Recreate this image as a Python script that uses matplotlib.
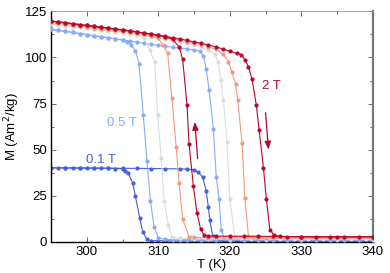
import matplotlib
matplotlib.use("Agg")
import matplotlib.pyplot as plt
from matplotlib.ticker import MultipleLocator

plt.rcParams['font.family'] = ['Liberation Sans', 'DejaVu Sans']
plt.rcParams['font.size'] = 9.5

# field labels and colours (coolwarm-like)
fields = ["0.1 T", "0.5 T", "1 T", "1.5 T", "2 T"]
colors = ["#4361d3", "#86aafc", "#dcdcdc", "#f4997c", "#b7072b"]

# ---- 0.1 T ----
t_heat_01 = [295, 297, 299, 301, 303, 305, 307, 309, 311, 313, 314, 315, 315.6, 316.2, 316.7,
             317.0, 317.2, 317.6, 318.2, 319, 321, 323, 325, 327, 329, 331, 333, 335, 337, 339, 340]
m_heat_01 = [40.1, 40.0, 40.0, 39.9, 39.9, 39.8, 39.8, 39.7, 39.6, 39.5, 39.4, 39.0, 37.8, 35.0, 27.4,
             18.6, 11.7, 3.1, 0.8, 0.4, 0.3, 0.3, 0.3, 0.3, 0.3, 0.3, 0.3, 0.3, 0.3, 0.3, 0.3]
t_cool_01 = [295, 296, 297, 298, 299, 300, 301, 302, 303, 304, 305, 305.3, 305.8, 306.4, 306.8,
             307.4, 307.8, 308.4, 309, 310, 311, 312, 313, 314, 315, 316, 318, 320, 325, 330, 335, 340]
m_cool_01 = [40.1, 40.1, 40.0, 40.0, 40.0, 39.9, 39.9, 39.8, 39.8, 39.7, 39.5, 38.4, 37.0, 32.0, 24.7,
             12.6, 5.4, 1.3, 0.6, 0.5, 0.4, 0.4, 0.4, 0.4, 0.3, 0.3, 0.3, 0.3, 0.3, 0.3, 0.3, 0.3]

# ---- 0.5 T ----
t_heat_05 = [295, 296, 297, 298, 299, 300, 301, 302, 303, 304, 305, 306, 307, 308, 309, 310, 311,
             312, 313, 314, 315, 315.8, 316.3, 316.7, 317.1, 317.7, 318.1, 318.5, 318.8, 319.2,
             320, 322, 324, 326, 328, 330, 332, 334, 336, 338, 340]
m_heat_05 = [115.3, 114.7, 114.2, 113.6, 113.0, 112.4, 111.8, 111.3, 110.7, 110.1, 109.5, 108.9,
             108.3, 107.7, 107.1, 106.6, 106.1, 105.6, 105.1, 104.6, 104.1, 103.4, 101.0, 93.7,
             82.4, 61.3, 35.0, 22.9, 6.3, 1.8, 1.0, 0.9, 0.9, 0.9, 0.9, 0.9, 0.9, 0.9, 0.9, 0.9, 0.9]
t_cool_05 = [295, 296, 297, 298, 299, 300, 301, 302, 303, 304, 305, 305.6, 306.2, 306.8, 307.3,
             307.9, 308.4, 308.9, 309.4, 310.0, 311, 312, 313, 314, 316, 318, 320, 325, 330, 335, 340]
m_cool_05 = [115.3, 114.7, 114.2, 113.6, 113.0, 112.4, 111.8, 111.3, 110.7, 110.1, 109.4, 108.3,
             106.7, 103.6, 96.6, 68.5, 44.0, 22.0, 8.0, 2.0, 1.2, 1.0, 1.0, 1.0, 0.9, 0.9, 0.9,
             0.9, 0.9, 0.9, 0.9]

# ---- 1 T ----
t_heat_1 = [295, 296, 297, 298, 299, 300, 301, 302, 303, 304, 305, 306, 307, 308, 309, 310, 311,
            312, 313, 314, 315, 316, 317, 317.9, 318.4, 318.7, 319.1, 319.6, 320.0, 320.7,
            321.5, 323, 325, 327, 329, 331, 333, 335, 337, 339, 340]
m_heat_1 = [118.2, 117.7, 117.3, 116.8, 116.3, 115.8, 115.3, 114.8, 114.4, 113.9, 113.4, 112.9,
            112.3, 111.7, 111.1, 110.5, 109.9, 109.2, 108.5, 107.7, 106.9, 105.5, 103.8, 101.8,
            97.3, 88.0, 77.0, 54.0, 23.0, 2.4, 1.7, 1.5, 1.5, 1.5, 1.5, 1.5, 1.5, 1.5, 1.5, 1.5, 1.5]
t_cool_1 = [295, 296, 297, 298, 299, 300, 301, 302, 303, 304, 305, 306, 307, 308, 308.8, 309.5,
            309.9, 310.4, 310.8, 311.4, 311.9, 313, 315, 317, 320, 325, 330, 335, 340]
m_cool_1 = [118.2, 117.7, 117.3, 116.8, 116.3, 115.8, 115.3, 114.8, 114.4, 113.9, 113.4, 112.9,
            112.2, 110.5, 104.0, 97.3, 68.9, 45.6, 22.0, 9.0, 2.7, 1.7, 1.6, 1.5, 1.5, 1.5, 1.5,
            1.5, 1.5]

# ---- 1.5 T ----
t_heat_15 = [295, 296, 297, 298, 299, 300, 301, 302, 303, 304, 305, 306, 307, 308, 309, 310, 311,
             312, 313, 314, 315, 316, 317, 318, 319, 319.8, 320.3, 320.8, 321.1, 321.7, 322.1,
             322.6, 323.2, 324, 326, 328, 330, 332, 334, 336, 338, 340]
m_heat_15 = [119.1, 118.6, 118.2, 117.7, 117.2, 116.7, 116.2, 115.7, 115.3, 114.8, 114.3, 113.8,
             113.2, 112.6, 112.0, 111.4, 110.8, 110.1, 109.4, 108.6, 107.8, 107.0, 105.9, 104.5,
             102.0, 97.8, 92.0, 85.6, 77.1, 53.7, 23.8, 3.1, 2.3, 2.1, 2.0, 2.0, 2.0, 2.0, 2.0,
             2.0, 2.0, 2.0]
t_cool_15 = [295, 296, 297, 298, 299, 300, 301, 302, 303, 304, 305, 306, 307, 308, 309, 310,
             310.6, 311.3, 311.9, 312.5, 312.9, 313.4, 314.3, 315, 317, 320, 325, 330, 335, 340]
m_cool_15 = [119.1, 118.6, 118.2, 117.7, 117.2, 116.7, 116.2, 115.7, 115.3, 114.8, 114.3, 113.8,
             113.2, 112.6, 111.8, 110.5, 106.8, 102.4, 77.8, 51.4, 32.0, 12.1, 2.7, 2.3, 2.1,
             2.0, 2.0, 2.0, 2.0, 2.0]

# ---- 2 T ----
t_heat_2 = [295, 296, 297, 298, 299, 300, 301, 302, 303, 304, 305, 306, 307, 308, 309, 310, 311,
            312, 313, 314, 315, 316, 317, 318, 319, 320, 321, 321.6, 322.1, 322.6, 323.1, 323.7,
            324.1, 324.7, 325.1, 325.6, 326.2, 327, 328, 330, 332, 334, 336, 338, 340]
m_heat_2 = [119.8, 119.3, 118.9, 118.4, 117.9, 117.4, 116.9, 116.4, 116.0, 115.5, 115.0, 114.5,
            113.9, 113.3, 112.7, 112.1, 111.5, 110.8, 110.1, 109.3, 108.5, 107.7, 106.8, 105.8,
            104.7, 103.4, 102.2, 101.5, 98.8, 95.1, 88.3, 74.3, 60.4, 40.0, 23.4, 6.3, 3.6, 2.8,
            2.7, 2.6, 2.6, 2.6, 2.6, 2.6, 2.6]
t_cool_2 = [295, 296, 297, 298, 299, 300, 301, 302, 303, 304, 305, 306, 307, 308, 309, 310, 311,
            312, 312.9, 313.4, 314.0, 314.3, 314.9, 315.4, 315.9, 316.4, 317, 318, 320, 322, 324,
            326, 330, 335, 340]
m_cool_2 = [119.8, 119.3, 118.9, 118.4, 117.9, 117.4, 116.9, 116.4, 116.0, 115.5, 115.0, 114.5,
            113.9, 113.3, 112.7, 112.1, 111.3, 109.8, 105.8, 99.1, 74.4, 52.8, 30.1, 15.7, 6.9,
            3.6, 3.1, 3.0, 2.9, 2.9, 2.9, 2.8, 2.7, 2.6, 2.6]

heat = [(t_heat_01, m_heat_01), (t_heat_05, m_heat_05), (t_heat_1, m_heat_1),
        (t_heat_15, m_heat_15), (t_heat_2, m_heat_2)]
cool = [(t_cool_01, m_cool_01), (t_cool_05, m_cool_05), (t_cool_1, m_cool_1),
        (t_cool_15, m_cool_15), (t_cool_2, m_cool_2)]

fig = plt.figure(figsize=(3.9, 2.73), dpi=100)
ax = fig.add_axes([0.131, 0.115, 0.825, 0.843])

for i in range(len(fields)):
    c = colors[i]
    for t, m in (cool[i], heat[i]):
        ax.plot(t, m, '-o', color=c, lw=0.8, ms=3.0, mew=0, zorder=2 + i)

# field labels
ax.text(302, 44.5, "0.1 T", color=colors[0], ha='center', va='center')
ax.text(304.9, 64.3, "0.5 T", color=colors[1], ha='center', va='center')
ax.text(325.8, 84.7, "2 T", color=colors[4], ha='center', va='center')

# heating / cooling arrows
arr = dict(arrowstyle='-|>,head_length=0.5,head_width=0.2', color=colors[4], lw=0.9,
           shrinkA=0, shrinkB=0)
ax.annotate("", xy=(315.1, 65), xytext=(315.5, 45), arrowprops=arr)
ax.annotate("", xy=(325.4, 50), xytext=(325.0, 70), arrowprops=arr)

ax.set_xlim(295, 340)
ax.set_ylim(0, 125)
ax.xaxis.set_major_locator(MultipleLocator(10))
ax.xaxis.set_minor_locator(MultipleLocator(5))
ax.yaxis.set_major_locator(MultipleLocator(25))
ax.yaxis.set_minor_locator(MultipleLocator(12.5))
ax.tick_params(which='both', direction='in', top=True, right=True, color='#555555')
ax.tick_params(which='major', length=3.5, width=0.6, labelsize=9.5, pad=3)
ax.tick_params(which='minor', length=2, width=0.6)

ax.set_xlabel("T (K)", labelpad=1)
ax.set_ylabel("M (Am$^2$/kg)", labelpad=2)

ax.spines['left'].set_linewidth(1.0)
ax.spines['bottom'].set_linewidth(1.0)
ax.spines['top'].set_color('#999999')
ax.spines['top'].set_linewidth(0.6)
ax.spines['right'].set_color('#777777')
ax.spines['right'].set_linewidth(1.6)

fig.savefig("out.png", dpi=100)
